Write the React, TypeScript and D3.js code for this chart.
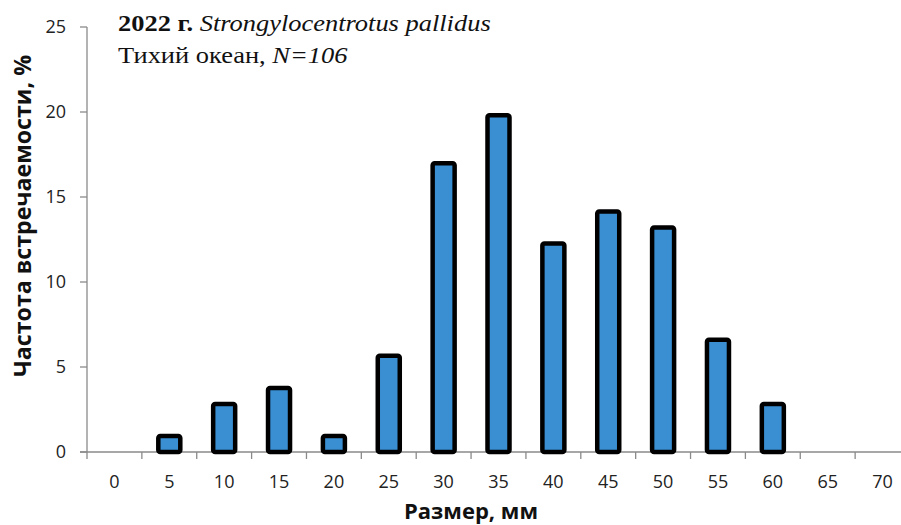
import React from "react";
import * as d3 from "d3";

const categories = ["0", "5", "10", "15", "20", "25", "30", "35", "40", "45", "50", "55", "60", "65", "70"];
const values = [0, 0.94, 2.83, 3.77, 0.94, 5.66, 16.98, 19.81, 12.26, 14.15, 13.21, 6.6, 2.83, 0, 0];
const yTicks = [0, 5, 10, 15, 20, 25];

const W = 901;
const H = 525;

export default function App() {
  const x = d3.scaleBand<string>().domain(categories).range([87, 910]).paddingInner(0).paddingOuter(0);
  const y = d3.scaleLinear().domain([0, 25]).range([452, 27]);
  const bw = x.bandwidth();
  const barW = 22;
  const sans = "'Open Sans', 'Noto Sans', sans-serif";
  const serif = "'Liberation Serif', 'DejaVu Serif', serif";
  return (
    <svg width={W} height={H} style={{ position: "absolute", left: 0, top: 0, background: "#fff" }}>
      {/* y axis */}
      <line x1={87} x2={87} y1={y(25)} y2={y(0)} stroke="#8a8a8a" strokeWidth={1.3} />
      {yTicks.map((t) => (
        <g key={t}>
          <line x1={80} x2={87} y1={y(t)} y2={y(t)} stroke="#8a8a8a" strokeWidth={1.3} />
          <text x={66} y={y(t)} dy="0.36em" textAnchor="end" fontFamily={sans} fontSize={18} fill="#222">
            {t}
          </text>
        </g>
      ))}
      {/* x axis */}
      <line x1={80} x2={W} y1={y(0)} y2={y(0)} stroke="#8a8a8a" strokeWidth={1.3} />
      {categories.map((c) => (
        <line key={"t" + c} x1={x(c)!} x2={x(c)!} y1={y(0)} y2={y(0) + 7} stroke="#8a8a8a" strokeWidth={1.3} />
      ))}
      {categories.map((c) => (
        <text key={"l" + c} x={x(c)! + bw / 2} y={488} textAnchor="middle" fontFamily={sans} fontSize={18} fill="#222">
          {c}
        </text>
      ))}
      {/* bars */}
      {categories.map((c, i) =>
        values[i] > 0 ? (
          <rect
            key={"b" + c}
            x={x(c)! + bw / 2 - barW / 2}
            y={y(values[i])}
            width={barW}
            height={y(0) - y(values[i])}
            rx={2}
            fill="#3a8fd3"
            stroke="#000"
            strokeWidth={4.5}
          />
        ) : null
      )}
      {/* titles */}
      <text x={471} y={519} textAnchor="middle" fontFamily={sans} fontWeight="bold" fontSize={22} fill="#111">
        Размер, мм
      </text>
      <text
        transform={`translate(31, 216) rotate(-90)`}
        textAnchor="middle"
        fontFamily={sans}
        fontWeight="bold"
        fontSize={23}
        fill="#111"
        textLength={322}
        lengthAdjust="spacingAndGlyphs"
      >
        Частота встречаемости, %
      </text>
      <g transform="translate(118, 0) scale(1.15, 1)">
        <text x={0} y={31} fontFamily={serif} fontSize={23} fill="#111">
          <tspan fontWeight="bold">2022 г.</tspan>
          <tspan fontStyle="italic"> Strongylocentrotus pallidus</tspan>
        </text>
        <text x={0} y={63} fontFamily={serif} fontSize={23} fill="#111">
          Тихий океан, <tspan fontStyle="italic">N=106</tspan>
        </text>
      </g>
    </svg>
  );
}
